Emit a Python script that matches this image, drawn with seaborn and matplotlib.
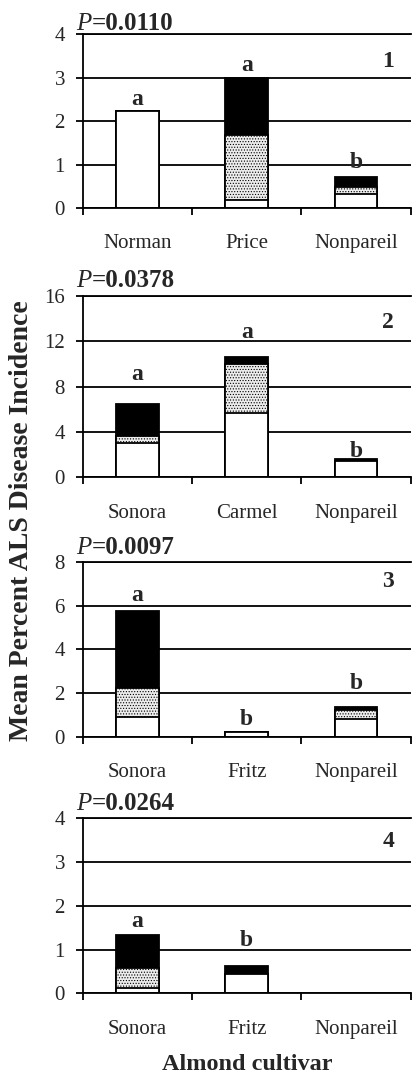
import numpy as np
import pandas as pd
import matplotlib
matplotlib.use("Agg")
import matplotlib.pyplot as plt
import seaborn as sns

# -----------------------------
# Data
# -----------------------------
cultivars_1 = ["Norman", "Price", "Nonpareil"]
white_1 = [2.22, 0.18, 0.33]
stipple_1 = [0.0, 1.50, 0.15]
black_1 = [0.0, 1.30, 0.24]

cultivars_2 = ["Sonora", "Carmel", "Nonpareil"]
white_2 = [3.0, 5.7, 1.4]
stipple_2 = [0.6, 4.3, 0.0]
black_2 = [2.9, 0.6, 0.2]

cultivars_3 = ["Sonora", "Fritz", "Nonpareil"]
white_3 = [0.92, 0.2, 0.81]
stipple_3 = [1.30, 0.0, 0.41]
black_3 = [3.55, 0.0, 0.16]

cultivars_4 = ["Sonora", "Fritz", "Nonpareil"]
white_4 = [0.12, 0.43, 0.0]
stipple_4 = [0.45, 0.0, 0.0]
black_4 = [0.76, 0.20, 0.0]

letters_1 = ["a", "a", "b"]
letters_2 = ["a", "a", "b"]
letters_3 = ["a", "b", "b"]
letters_4 = ["a", "b", ""]

# letter heights (data units)
letter_y_1 = [2.38, 3.14, 0.93]
letter_y_2 = [8.6, 12.25, 1.8]
letter_y_3 = [6.24, 0.54, 2.17]
letter_y_4 = [1.51, 1.08, 0]

p_values = ["0.0110", "0.0378", "0.0097", "0.0264"]
p_offset = [3, 6, 6, 6]
panel_ids = ["1", "2", "3", "4"]
panel_id_y = [0.84, 0.85, 0.89, 0.87]
y_max = [4, 16, 8, 4]
y_step = [1, 4, 2, 1]

panels = [
    (cultivars_1, white_1, stipple_1, black_1, letters_1, letter_y_1),
    (cultivars_2, white_2, stipple_2, black_2, letters_2, letter_y_2),
    (cultivars_3, white_3, stipple_3, black_3, letters_3, letter_y_3),
    (cultivars_4, white_4, stipple_4, black_4, letters_4, letter_y_4),
]

# -----------------------------
# Style
# -----------------------------
sns.set_style("white")
plt.rcParams["font.family"] = ["Liberation Serif", "DejaVu Serif"]
plt.rcParams["hatch.linewidth"] = 0.5
plt.rcParams["hatch.color"] = "#777777"

fig = plt.figure(figsize=(4.12, 10.84), dpi=100)

# axes boxes: left, bottom, width, height (figure fraction)
boxes = [
    [0.2015, 0.8081, 0.795, 0.1605],
    [0.2015, 0.5597, 0.795, 0.1675],
    [0.2015, 0.3204, 0.795, 0.1609],
    [0.2015, 0.0837, 0.795, 0.1614],
]

for i, (cats, white, stip, black, letters, ly) in enumerate(panels):
    ax = fig.add_axes(boxes[i])

    df = pd.DataFrame({
        "cultivar": cats,
        "total": np.array(white) + np.array(stip) + np.array(black),
        "mid": np.array(white) + np.array(stip),
        "white": white,
    })

    # stacked bars: draw the tallest first, then cover from the bottom
    sns.barplot(data=df, x="cultivar", y="total", order=cats, color="black",
                edgecolor="black", linewidth=1.3, width=0.39, ax=ax, saturation=1)
    sns.barplot(data=df, x="cultivar", y="mid", order=cats, color="#ececec",
                edgecolor="black", linewidth=1.3, width=0.39, ax=ax,
                saturation=1, hatch="......")
    sns.barplot(data=df, x="cultivar", y="white", order=cats, color="white",
                edgecolor="black", linewidth=1.3, width=0.39, ax=ax, saturation=1)

    for j, (lab, yy) in enumerate(zip(letters, ly)):
        if lab:
            ax.text(j, yy, lab, ha="center", va="baseline", fontsize=17,
                    fontweight="bold")

    ax.set_ylim(0, y_max[i])
    ax.set_xlim(-0.5, 2.5)
    ax.set_yticks(np.arange(0, y_max[i] + 1, y_step[i]))
    ax.yaxis.grid(True, color="black", linewidth=1.3)
    ax.set_axisbelow(True)

    ax.set_xticks([-0.5, 0.5, 1.5, 2.5], minor=True)
    ax.tick_params(axis="x", which="major", length=0, labelsize=15, pad=19)
    ax.tick_params(axis="x", which="minor", length=5, width=1.3,
                   direction="out", color="black", bottom=True)
    ax.tick_params(axis="y", length=5, width=1.3, direction="out",
                   color="black", left=True, labelsize=15, pad=8)

    for side in ["left", "bottom", "top"]:
        ax.spines[side].set_color("black")
        ax.spines[side].set_linewidth(1.3)
    ax.spines["right"].set_visible(False)

    ax.set_xlabel("")
    ax.set_ylabel("")

    ax.text(0.95, panel_id_y[i], panel_ids[i], transform=ax.transAxes,
            ha="right", va="center", fontsize=17, fontweight="bold")
    ptxt = ax.annotate("P", xy=(-0.02, 1.0), xycoords="axes fraction",
                       xytext=(0, p_offset[i]), textcoords="offset points",
                       ha="left", va="baseline", fontsize=18,
                       fontstyle="italic")
    ax.annotate("=" + p_values[i], xy=(1.0, 0.0), xycoords=ptxt,
                ha="left", va="bottom", fontsize=18, fontweight="bold")

fig.text(0.053, 0.52, "Mean Percent ALS Disease Incidence", rotation=90,
         ha="center", va="center", fontsize=20, fontweight="bold")
fig.text(0.6, 0.018, "Almond cultivar", ha="center", va="center",
         fontsize=17.5, fontweight="bold")

plt.savefig("out.png", dpi=100)
